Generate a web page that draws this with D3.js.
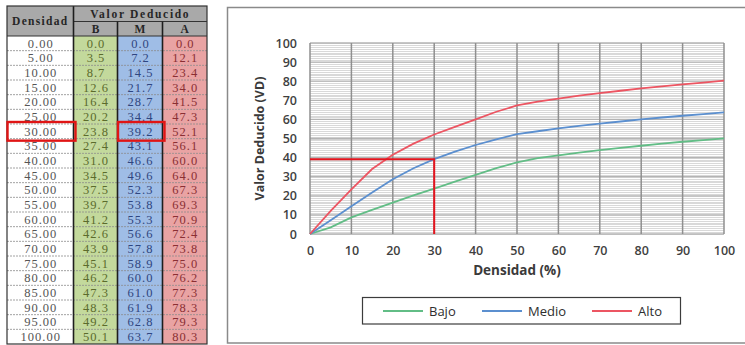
<!DOCTYPE html>
<html>
<head>
<meta charset="utf-8">
<script src="https://cdn.jsdelivr.net/npm/d3@7/dist/d3.min.js"></script>
<style>
  html, body { margin: 0; padding: 0; background: #fff; }
  svg { display: block; }
</style>
</head>
<body>
<svg id="fig" width="745" height="345"></svg>
<script>
// Densidad (%) and deducted values for each severity level
const densidad = [0, 5, 10, 15, 20, 25, 30, 35, 40, 45, 50, 55, 60, 65, 70, 75, 80, 85, 90, 95, 100];
const bajo  = [0.0, 3.5, 8.7, 12.6, 16.4, 20.2, 23.8, 27.4, 31.0, 34.5, 37.5, 39.7, 41.2, 42.6, 43.9, 45.1, 46.2, 47.3, 48.3, 49.2, 50.1];
const medio = [0.0, 7.2, 14.5, 21.7, 28.7, 34.4, 39.2, 43.1, 46.6, 49.6, 52.3, 53.8, 55.3, 56.6, 57.8, 58.9, 60.0, 61.0, 61.9, 62.8, 63.7];
const alto  = [0.0, 12.1, 23.4, 34.0, 41.5, 47.3, 52.1, 56.1, 60.0, 64.0, 67.3, 69.3, 70.9, 72.4, 73.8, 75.0, 76.2, 77.3, 78.3, 79.3, 80.3];

const seriesNames = ["Bajo", "Medio", "Alto"];
const tableCols = ["B", "M", "A"];
const xTicks = [0, 10, 20, 30, 40, 50, 60, 70, 80, 90, 100];
const yTicks = [0, 10, 20, 30, 40, 50, 60, 70, 80, 90, 100];

// worked example: density 30 -> medio value
const lookupIndex = 6;

const svg = d3.select("#fig");

/* ---------------- table ---------------- */
const tbl = svg.append("g");
const colEdges = [7, 73.5, 117.5, 162.5, 207];
const headTop = 6, headMid = 21.5, headBot = 36;
const rowBand = d3.scaleBand().domain(d3.range(densidad.length)).range([headBot, 344]);
const colFill = ["#ffffff", "#c3d99c", "#9fbde6", "#e9a3a3"];
const colText = ["#555555", "#5b6b2c", "#2f4680", "#8a2f33"];
const serif = "'Liberation Serif', 'DejaVu Serif', serif";

// header background
tbl.append("rect").attr("x", colEdges[0]).attr("y", headTop)
  .attr("width", colEdges[4] - colEdges[0]).attr("height", headBot - headTop)
  .attr("fill", "#a9a9a9");

// data column fills
colFill.forEach((f, i) => {
  tbl.append("rect").attr("x", colEdges[i]).attr("y", headBot)
    .attr("width", colEdges[i + 1] - colEdges[i]).attr("height", 344 - headBot)
    .attr("fill", f);
});

// dashed row separators
rowBand.domain().slice(1).forEach(i => {
  tbl.append("line").attr("x1", colEdges[0]).attr("x2", colEdges[4])
    .attr("y1", rowBand(i)).attr("y2", rowBand(i))
    .attr("stroke", "#8c8c8c").attr("stroke-width", 0.8).attr("stroke-dasharray", "2,1");
});

// header texts
tbl.append("text").attr("x", (colEdges[0] + colEdges[1]) / 2).attr("y", (headTop + headBot) / 2 + 4)
  .attr("text-anchor", "middle").attr("font-family", serif).attr("font-weight", "bold")
  .attr("font-size", 11.5).attr("letter-spacing", 1.3).attr("fill", "#262626").text("Densidad");
tbl.append("text").attr("x", (colEdges[1] + colEdges[4]) / 2).attr("y", headMid - 4)
  .attr("text-anchor", "middle").attr("font-family", serif).attr("font-weight", "bold")
  .attr("font-size", 11.5).attr("letter-spacing", 1.7).attr("fill", "#262626").text("Valor Deducido");
tableCols.forEach((c, i) => {
  tbl.append("text").attr("x", (colEdges[i + 1] + colEdges[i + 2]) / 2).attr("y", headBot - 3.5)
    .attr("text-anchor", "middle").attr("font-family", serif).attr("font-weight", "bold")
    .attr("font-size", 11.5).attr("fill", "#262626").text(c);
});

// cell values
const tableData = [densidad.map(d => d.toFixed(2)), bajo.map(d => d.toFixed(1)), medio.map(d => d.toFixed(1)), alto.map(d => d.toFixed(1))];
tableData.forEach((col, ci) => {
  tbl.append("g").selectAll("text").data(col).join("text")
    .attr("x", (colEdges[ci] + colEdges[ci + 1]) / 2 + 0.5)
    .attr("y", (d, i) => rowBand(i) + rowBand.bandwidth() / 2 + 4.2)
    .attr("text-anchor", "middle").attr("font-family", serif)
    .attr("font-size", 12.5).attr("letter-spacing", 1).attr("fill", colText[ci])
    .text(d => d);
});

// grid borders
tbl.append("line").attr("x1", colEdges[1]).attr("x2", colEdges[4]).attr("y1", headMid).attr("y2", headMid)
  .attr("stroke", "#333").attr("stroke-width", 1.2);
tbl.append("line").attr("x1", colEdges[0]).attr("x2", colEdges[4]).attr("y1", headBot).attr("y2", headBot)
  .attr("stroke", "#333").attr("stroke-width", 1.2);
colEdges.slice(1, 4).forEach((x, i) => {
  tbl.append("line").attr("x1", x).attr("x2", x).attr("y1", i === 0 ? headTop : headMid).attr("y2", 344)
    .attr("stroke", "#1e1e1e").attr("stroke-width", 1.6);
});
tbl.append("rect").attr("x", colEdges[0]).attr("y", headTop)
  .attr("width", colEdges[4] - colEdges[0]).attr("height", 344 - headTop)
  .attr("fill", "none").attr("stroke", "#333").attr("stroke-width", 1.2);

// highlighted lookup cells
const hlRow = rowBand(lookupIndex);
[[colEdges[0], colEdges[1]], [colEdges[2], colEdges[3]]].forEach(([a, b]) => {
  tbl.append("rect").attr("x", a + 0.5).attr("y", hlRow - 2)
    .attr("width", b - a + 1.5).attr("height", rowBand.bandwidth() + 4)
    .attr("fill", "none").attr("stroke", "#e01515").attr("stroke-width", 2.4);
});

/* ---------------- chart ---------------- */
const sans = "'Open Sans', 'Liberation Sans', sans-serif";
svg.append("rect").attr("x", 227.5).attr("y", 7.5).attr("width", 530).attr("height", 335.5)
  .attr("fill", "#fff").attr("stroke", "#8a8a8a").attr("stroke-width", 1.5);

const x = d3.scaleLinear().domain([0, 100]).range([310, 724]);
const y = d3.scaleLinear().domain([0, 100]).range([234, 43]);

const plot = svg.append("g");
// minor horizontal grid
plot.append("g").selectAll("line").data(d3.range(0, 101, 1)).join("line")
  .attr("x1", x(0)).attr("x2", x(100))
  .attr("y1", d => Math.round(y(d)) + 0.5).attr("y2", d => Math.round(y(d)) + 0.5)
  .attr("stroke", "#d9d9d9").attr("stroke-width", 1);
// major horizontal grid
plot.append("g").selectAll("line").data(yTicks).join("line")
  .attr("x1", x(0)).attr("x2", x(100))
  .attr("y1", d => y(d)).attr("y2", d => y(d))
  .attr("stroke", "#b4b4b4").attr("stroke-width", 1.3);
// vertical grid
plot.append("g").selectAll("line").data(xTicks).join("line")
  .attr("x1", d => x(d)).attr("x2", d => x(d))
  .attr("y1", y(0)).attr("y2", y(100))
  .attr("stroke", "#8f8f8f").attr("stroke-width", 1.5);

// axes labels via d3 axes
const yAxis = svg.append("g").attr("transform", `translate(${x(0) - 8},0)`)
  .call(d3.axisLeft(y).tickValues(yTicks).tickSize(0).tickPadding(5));
const xAxis = svg.append("g").attr("transform", `translate(0,${y(0) + 8})`)
  .call(d3.axisBottom(x).tickValues(xTicks).tickSize(0).tickPadding(4));
[yAxis, xAxis].forEach(ax => {
  ax.select(".domain").remove();
  ax.selectAll("text").attr("font-family", sans).attr("font-size", 12.5)
    .attr("font-weight", 600).attr("fill", "#3f3f3f");
});

svg.append("text").attr("x", x(50)).attr("y", 275).attr("text-anchor", "middle")
  .attr("font-family", sans).attr("font-weight", "bold").attr("font-size", 13.5)
  .attr("fill", "#3a3a3a").text("Densidad (%)");
svg.append("text").attr("transform", `translate(264,${y(50)}) rotate(-90)`).attr("text-anchor", "middle")
  .attr("font-family", sans).attr("font-weight", "bold").attr("font-size", 12.5)
  .attr("fill", "#3a3a3a").text("Valor Deducido (VD)");

// series
const colors = { Bajo: "#62bd86", Medio: "#5b8fcf", Alto: "#ec5562" };
const seriesValues = { Bajo: bajo, Medio: medio, Alto: alto };
const line = d3.line().x(d => x(d[0])).y(d => y(d[1]));
seriesNames.forEach(name => {
  plot.append("path")
    .datum(densidad.map((dv, i) => [dv, seriesValues[name][i]]))
    .attr("d", line).attr("fill", "none")
    .attr("stroke", colors[name]).attr("stroke-width", 1.8);
});

// lookup guide lines
const gx = densidad[lookupIndex], gy = medio[lookupIndex];
plot.append("path")
  .attr("d", d3.line()([[x(0), y(gy)], [x(gx), y(gy)], [x(gx), y(0)]]))
  .attr("fill", "none").attr("stroke", "#e4141e").attr("stroke-width", 2);

// legend
const lg = svg.append("g");
lg.append("rect").attr("x", 362.5).attr("y", 297.5).attr("width", 318).attr("height", 26.5)
  .attr("fill", "#fff").attr("stroke", "#3c3c3c").attr("stroke-width", 1.2);
const legendStart = { Bajo: 383, Medio: 482, Alto: 592 };
seriesNames.forEach(name => {
  const lx = legendStart[name];
  lg.append("line").attr("x1", lx).attr("x2", lx + 40).attr("y1", 311).attr("y2", 311)
    .attr("stroke", colors[name]).attr("stroke-width", 1.8);
  lg.append("text").attr("x", lx + 46).attr("y", 315.5)
    .attr("font-family", sans).attr("font-size", 13).attr("fill", "#2e2e2e").text(name);
});
</script>
</body>
</html>
